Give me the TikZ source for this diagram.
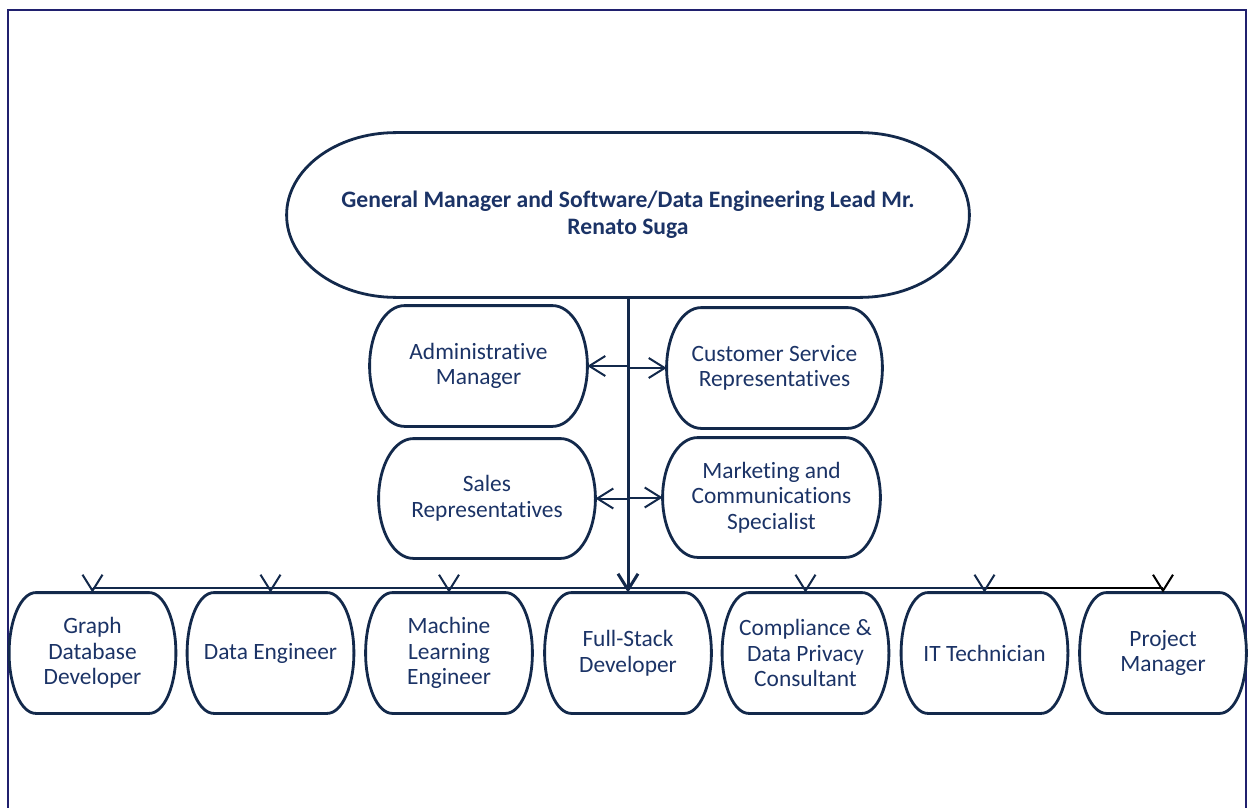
\documentclass[tikz,border=0pt]{standalone}
\usepackage{fontspec}
\setmainfont{Carlito}[Ligatures=NoCommon]
\usepackage{xcolor}
\usetikzlibrary{arrows.meta,calc}

\definecolor{line}{HTML}{13294B}
\definecolor{txt}{HTML}{1B3366}
\definecolor{framecol}{HTML}{20206E}

\newcommand{\capsule}[1]{%
  \draw[outline] let \p1=(#1.north west), \p2=(#1.south east),
    \n1={0.16*(\x2-\x1)}, \n2={(\y1-\y2)/2} in
    ({\x1+\n1*1pt},\y1) -- ({\x2-\n1*1pt},\y1)
    arc[start angle=90, end angle=-90, x radius={\n1*1pt}, y radius={\n2*1pt}]
    -- ({\x1+\n1*1pt},\y2)
    arc[start angle=270, end angle=90, x radius={\n1*1pt}, y radius={\n2*1pt}] -- cycle;}

\begin{document}
\begin{tikzpicture}[
    x=0.5pt, y=-0.5pt,
    box/.style={align=center, text=txt, inner sep=0pt, minimum width=83pt, minimum height=60pt,
      font=\fontsize{11.7}{12.8}\selectfont},
    topbox/.style={box, minimum width=341pt, minimum height=82pt,
      font=\fontsize{11.8}{13.5}\selectfont\bfseries},
    outline/.style={draw=line, line width=1.4pt},
    link/.style={draw=line, line width=1pt},
    arrow/.style={-{Straight Barb[length=8pt,width=10pt]}, line width=1pt, draw=line}
  ]
    \useasboundingbox (0,0) rectangle (1254,808);
    \draw[draw=framecol, line width=1pt] (8,808) -- (8,10) -- (1246,10) -- (1246,808);

    \node[topbox] (gm) at (628,215) {General Manager and Software/Data Engineering Lead Mr.\\Renato Suga};
    \node[box, minimum width=108.5pt] (adm) at (478.5,366) {Administrative\\Manager};
    \node[box, minimum width=107.5pt] (csr) at (774.5,368) {Customer Service\\Representatives};
    \node[box, minimum width=108pt, minimum height=59.5pt] (sal) at (487,498.5) {Sales\\Representatives};
    \node[box, minimum width=108.5pt, minimum height=59.5pt] (mkt) at (771.5,497.5) {Marketing and\\Communications\\Specialist};

    \foreach \i/\x/\txt in {1/92.5/{Graph\\Database\\Developer}, 2/270.5/{Data Engineer},
        3/449/{Machine\\Learning\\Engineer}, 4/628/{Full-Stack\\Developer},
        5/805.5/{Compliance \&\\Data Privacy\\Consultant}, 6/984.5/{IT Technician},
        7/1163/{Project\\Manager}} {
      \node[box] (b\i) at (\x,653) {\txt};
    }

    \foreach \nm in {gm,adm,csr,sal,mkt,b1,b2,b3,b4,b5,b6,b7} {
      \capsule{\nm}
    }

    \coordinate (bus) at (628,588);
    \draw[arrow, line width=1.5pt] (gm.south) -- (b4.north);
    \draw[arrow] (adm.east -| gm.south) -- (adm.east);
    \draw[arrow] (csr.west -| gm.south) -- (csr.west);
    \draw[arrow] (sal.east -| gm.south) -- (sal.east);
    \draw[arrow] (mkt.west -| gm.south) -- (mkt.west);

    \draw[link] (b1.north |- bus) -- (b6.north |- bus);
    \draw[link, draw=black] (b6.north |- bus) -- (b7.north |- bus);
    \foreach \i in {1,2,3,5,6} {
      \draw[arrow] (b\i.north |- bus) -- (b\i.north);
    }
    \draw[arrow, draw=black] (b7.north |- bus) -- (b7.north);
  \end{tikzpicture}
\end{document}
